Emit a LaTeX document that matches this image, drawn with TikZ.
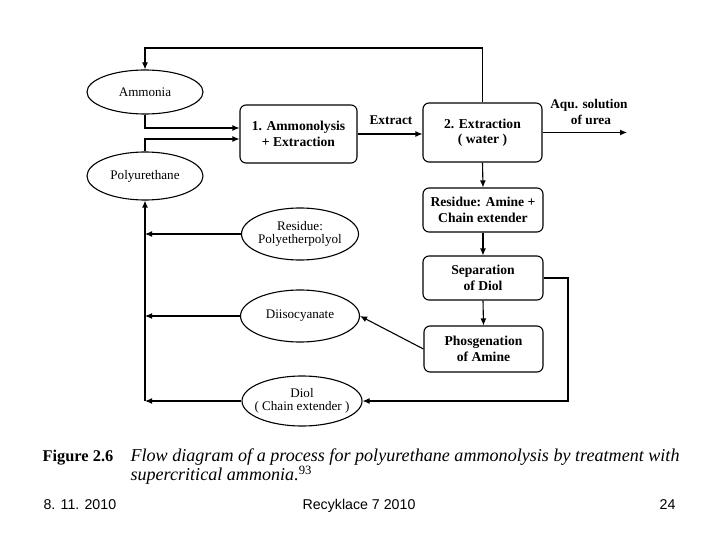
\documentclass[tikz,border=0pt]{standalone}
\usepackage{fontspec}
\setmainfont{Liberation Serif}
\newfontfamily\footfont{Liberation Sans}
\usetikzlibrary{shapes.geometric,arrows.meta}
\begin{document}
\begin{tikzpicture}[x=1pt,y=-1pt,
  line width=1.1pt,
  arr/.style={-{Latex[length=7pt,width=6pt]}},
  procbox/.style={draw,rounded corners=6pt,align=center,inner sep=0pt,
    font=\fontsize{13.6}{15.5}\selectfont\bfseries},
  feed/.style={draw,ellipse,align=center,inner sep=0pt,
    font=\fontsize{13.1}{12.5}\selectfont},
  lbl/.style={font=\fontsize{13.3}{15}\selectfont\bfseries,align=center,inner sep=0pt}]
\useasboundingbox (0,0) rectangle (720,540);
% ellipses
\node[feed,minimum width=116pt,minimum height=44pt] (am) at (145,92) {Ammonia};
\node[feed,minimum width=116pt,minimum height=48pt] (pu) at (145,176) {Polyurethane};
\node[feed,minimum width=117pt,minimum height=52pt,inner xsep=-5pt] (res) at (300,234) {Residue:\\[1pt]Polyetherpolyol};
\node[feed,minimum width=119pt,minimum height=52pt] (dii) at (300,316) {Diisocyanate};
\node[feed,minimum width=120pt,minimum height=50pt,inner xsep=-14pt,inner ysep=-4pt] (dio) at (302,401) {Diol\\( Chain extender )};
% boxes
\node[procbox,minimum width=117pt,minimum height=58pt] (b1) at (298.5,134) {1. Ammonolysis\\+ Extraction};
\node[procbox,minimum width=119pt,minimum height=59pt] (b2) at (482.5,132.5) {2. Extraction\\( water )};
\node[procbox,minimum width=120pt,minimum height=44pt] (b3) at (483,210) {Residue: Amine +\\Chain extender};
\node[procbox,minimum width=120pt,minimum height=44pt] (b4) at (483,278) {Separation\\of Diol};
\node[procbox,minimum width=119pt,minimum height=46pt] (b5) at (483.5,349) {Phosgenation\\of Amine};
% helper coordinates
\coordinate (top) at (0,48);
\coordinate (aq) at (627,132.5);
\coordinate (rt) at (568,0);
% connectors
\draw[arr] (b2.north) |- (top -| am.north) -- (am.north);
\draw[arr] (am.south) |- ([yshift=6pt]b1.west);
\draw[arr] (pu.north) |- ([yshift=-5pt]b1.west);
\draw[arr] (b1.east) -- (b1.east -| b2.west);
\node[lbl,anchor=base] (ex) at (391,125) {Extract};
\draw[arr] (b2.east) -- (aq);
\node[lbl,anchor=base] (aq1) at (589,109) {Aqu. solution};
\node[lbl,anchor=base] (aq2) at (591,125) {of urea};
\draw[arr] (b2.south) -- (b3.north);
\draw[arr] (b3.south) -- (b4.north);
\draw[arr] (b4.south) -- (b5.north);
\draw[arr] (b4.east) -- (b4.east -| rt) |- (dio.east);
\draw[arr] (b5.west) -- (dii.east);
\draw[arr] (res.west) -- (res.west -| pu.south);
\draw[arr] (dii.west) -- (dii.west -| pu.south);
\draw[arr] (dio.west) -- (dio.west -| pu.south);
\draw[arr] (dio.west -| pu.south) -- (pu.south);
% caption
\node[anchor=base west,inner sep=0pt,font=\fontsize{16.4}{18}\selectfont\bfseries] (fig) at (42,461) {Figure 2.6};
\node[anchor=north west,inner sep=0pt,align=left,font=\fontsize{18.1}{17.5}\selectfont\itshape] (cap) at (130,448)
  {Flow diagram of a process for polyurethane ammonolysis by treatment with\\supercritical ammonia.\textsuperscript{\upshape 93}};
% footer
\node[anchor=base west,inner sep=0pt,font=\fontsize{14.2}{16}\footfont] (f1) at (43,509) {8. 11. 2010};
\node[anchor=base,inner sep=0pt,font=\fontsize{14.2}{16}\footfont] (f2) at (359,509) {Recyklace 7 2010};
\node[anchor=base east,inner sep=0pt,font=\fontsize{14.2}{16}\footfont] (f3) at (676,509) {24};
\end{tikzpicture}
\end{document}
